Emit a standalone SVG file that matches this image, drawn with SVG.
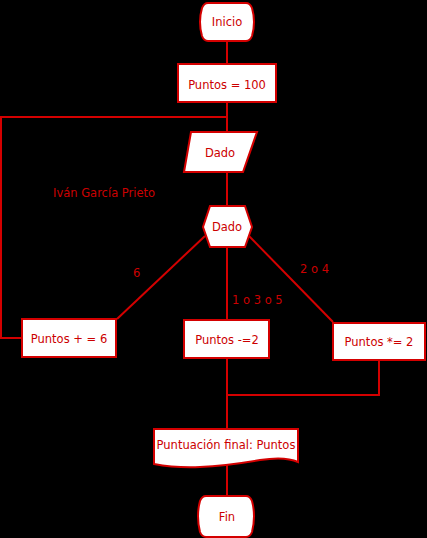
<svg xmlns="http://www.w3.org/2000/svg" width="427" height="538" viewBox="0 0 427 538">
<style>
.s{fill:#ffffff;stroke:#d40000;stroke-width:2}
.c{fill:none;stroke:#d40000;stroke-width:2}
text{font-family:"DejaVu Sans",Verdana,sans-serif;font-size:11.5px;fill:#cc0000}
.m{text-anchor:middle}
</style>
<rect width="427" height="538" fill="#000000"/>
<g id="connectors">
<path class="c" d="M227,41 V64"/>
<path class="c" d="M227,102 V132"/>
<path class="c" d="M227,117 H1 V338 H22"/>
<path class="c" d="M227,172 V206"/>
<path class="c" d="M205,236 L117,319"/>
<path class="c" d="M227,247 V320"/>
<path class="c" d="M249,236 L333,322"/>
<path class="c" d="M227,358 V429"/>
<path class="c" d="M379,360 V395 H227"/>
<path class="c" d="M227,465 V496"/>
</g>
<g id="inicio">
<path class="s" d="M208,3 H246 Q250,3 252,8 Q256,22 252,36 Q250,41 246,41 H208 Q204,41 202,36 Q198,22 202,8 Q204,3 208,3 Z"/>
<text class="m" x="227" y="26">Inicio</text>
</g>
<g id="puntos100">
<rect class="s" x="178" y="64" width="98" height="38"/>
<text class="m" x="227" y="89">Puntos = 100</text>
</g>
<g id="dado-input">
<polygon class="s" points="191,132 257,132 243,172 184,172"/>
<text class="m" x="220" y="157">Dado</text>
</g>
<text x="53" y="197">Iván García Prieto</text>
<g id="dado-decision">
<polygon class="s" points="210,206 245,206 252,227 245,247 210,247 203,227"/>
<text class="m" x="227" y="231">Dado</text>
</g>
<text x="133" y="277">6</text>
<text x="232" y="304">1 o 3 o 5</text>
<text x="300" y="273">2 o 4</text>
<g id="mas6">
<rect class="s" x="22" y="319" width="94" height="38"/>
<text class="m" x="69" y="343">Puntos + = 6</text>
</g>
<g id="menos2">
<rect class="s" x="184" y="320" width="85" height="38"/>
<text class="m" x="227" y="344">Puntos -=2</text>
</g>
<g id="por2">
<rect class="s" x="333" y="323" width="92" height="37"/>
<text class="m" x="379" y="346">Puntos *= 2</text>
</g>
<g id="puntuacion">
<path class="s" d="M154,429 H298 V462 Q285,456 260,460 Q225,466 200,467 Q175,468 154,464 Z"/>
<text class="m" x="226" y="449">Puntuación final: Puntos</text>
</g>
<g id="fin">
<path class="s" d="M206,496 H246 Q250,496 252,501 Q256,516 252,532 Q250,537 246,537 H206 Q202,537 200,532 Q196,516 200,501 Q202,496 206,496 Z"/>
<text class="m" x="227" y="521">Fin</text>
</g>
</svg>
